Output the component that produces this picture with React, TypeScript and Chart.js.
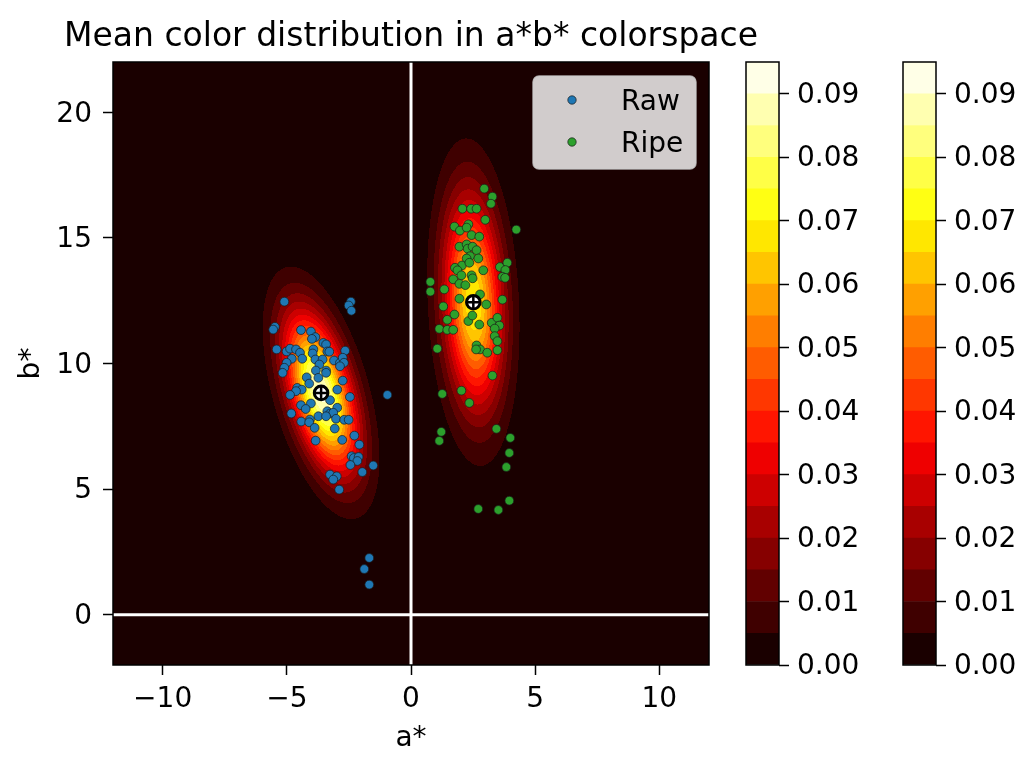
import React, { useEffect, useRef } from 'react';
import Chart from 'chart.js/auto';

// a*/b* of the individual samples
const rawA = [-5.10, -2.42, -2.51, -2.40, -5.48, -5.55, -4.43, -4.03, -3.85, -3.99,
  -3.53, -3.42, -3.37, -3.29, -2.65, -5.41, -5.01, -4.87, -4.63, -4.47,
  -4.38, -3.93, -3.96, -3.85, -3.56, -4.80, -5.01, -5.10, -5.17, -3.10,
  -2.86, -2.75, -2.70, -2.86, -3.69, -3.83, -3.42, -3.42, -3.73, -4.20,
  -4.10, -4.58, -4.40, -4.63, -4.87, -2.97, -2.75, -2.46, -3.26, -0.95,
  -4.03, -4.43, -4.24, -2.97, -3.37, -3.26, -3.13, -3.02, -3.73, -3.42,
  -4.82, -4.42, -4.07, -4.10, -3.88, -2.69, -2.51, -3.07, -2.28, -2.08,
  -3.84, -2.77, -2.39, -2.30, -2.11, -2.16, -2.44, -1.52, -1.96, -3.26,
  -2.99, -3.13, -2.89, -1.68, -1.88, -1.68];
const rawB = [12.46, 12.46, 12.31, 12.10, 11.46, 11.35, 11.33, 11.27, 11.05, 10.98,
  10.82, 10.76, 10.48, 10.47, 10.51, 10.56, 10.48, 10.59, 10.56, 10.43,
  10.19, 10.56, 10.40, 10.16, 10.16, 10.19, 10.03, 9.83, 9.63, 10.12,
  10.03, 10.23, 10.03, 9.89, 9.96, 9.72, 9.72, 9.63, 9.43, 9.45,
  9.20, 9.03, 8.96, 8.90, 8.75, 8.96, 9.32, 8.67, 8.54, 8.75,
  8.41, 8.34, 8.19, 8.24, 8.10, 8.01, 8.04, 7.80, 7.90, 7.90,
  8.01, 7.69, 7.77, 7.66, 7.44, 7.76, 7.76, 7.41, 7.13, 6.77,
  6.93, 6.96, 6.31, 6.24, 6.28, 6.12, 5.96, 5.94, 5.68, 5.58,
  5.51, 5.38, 4.98, 2.26, 1.82, 1.20];

const ripeA = [2.95, 3.28, 3.22, 2.07, 2.42, 2.64, 2.99, 4.24, 1.75, 1.97,
  2.31, 2.24, 2.44, 2.75, 1.95, 2.24, 2.28, 2.48, 2.64, 2.38,
  2.71, 2.24, 2.05, 2.35, 1.77, 1.87, 2.03, 2.44, 2.48, 1.70,
  1.95, 2.19, 2.91, 3.58, 3.88, 3.80, 3.68, 3.79, 0.78, 0.78,
  1.34, 1.95, 2.78, 3.03, 3.68, 1.30, 1.75, 1.46, 2.31, 2.47,
  2.75, 1.14, 1.46, 1.70, 3.25, 3.48, 3.56, 3.37, 3.37, 3.48,
  2.64, 2.78, 2.62, 3.07, 3.48, 1.06, 3.28, 2.03, 1.26, 2.35,
  3.44, 1.22, 1.14, 4.00, 3.96, 3.84, 3.96, 2.71, 3.52];
const ripeB = [16.96, 16.64, 16.36, 16.16, 16.16, 16.16, 15.72, 15.33, 15.45, 15.29,
  15.54, 15.41, 15.11, 15.05, 14.65, 14.74, 14.57, 14.65, 14.51, 14.27,
  14.18, 14.18, 13.90, 14.01, 13.81, 13.71, 13.51, 13.51, 13.39, 13.35,
  13.17, 13.12, 13.71, 13.84, 14.01, 13.72, 13.45, 13.41, 13.25, 12.86,
  12.95, 12.58, 12.75, 12.35, 12.54, 12.27, 11.95, 11.74, 11.69, 11.91,
  11.55, 11.38, 11.34, 11.34, 11.62, 11.82, 11.51, 11.39, 11.09, 10.89,
  10.72, 10.56, 10.56, 10.43, 10.53, 10.59, 9.52, 8.92, 8.79, 8.43,
  7.40, 7.28, 6.92, 7.04, 6.44, 5.88, 4.54, 4.21, 4.17];

// group means (raw, ripe) and covariances [var a, cov ab, var b]
const meanA = [-3.62, 2.51];
const meanB = [8.83, 12.44];
const rawCov = [0.95, -1.05, 4.35];
const ripeCov = [0.655, -0.345, 8.04];

const contourLevels = [0, 0.005, 0.01, 0.015, 0.02, 0.025, 0.03, 0.035, 0.04, 0.045,
  0.05, 0.055, 0.06, 0.065, 0.07, 0.075, 0.08, 0.085, 0.09, 0.095];
const cbarTicks = [0, 0.01, 0.02, 0.03, 0.04, 0.05, 0.06, 0.07, 0.08, 0.09];
const aTicks = [-10, -5, 0, 5, 10];
const bTicks = [0, 5, 10, 15, 20];
const aLimits = [-12, 12];
const bLimits = [-2, 22];

const FONT = 'DejaVu Sans';
Chart.defaults.font.family = FONT;
Chart.defaults.color = '#000';

// matplotlib 'hot' colormap (256 entry lut)
function hot(v: number): string {
  const x = Math.min(255, Math.floor(v * 256)) / 255;
  const r = x < 0.365079 ? 0.0416 + (1 - 0.0416) * x / 0.365079 : 1;
  const g = x < 0.365079 ? 0 : x < 0.746032 ? (x - 0.365079) / (0.746032 - 0.365079) : 1;
  const b = x < 0.746032 ? 0 : (x - 0.746032) / (1 - 0.746032);
  return `rgb(${Math.round(r * 255)},${Math.round(g * 255)},${Math.round(b * 255)})`;
}

const vmax = contourLevels[contourLevels.length - 1];
const bandColors = contourLevels.slice(0, -1).map((l, i) => hot((l + contourLevels[i + 1]) / 2 / vmax));
const bandRgb = bandColors.map(c => c.slice(4, -1).split(',').map(Number));

function gauss(a: number, b: number, ma: number, mb: number, cov: number[]) {
  const [saa, sab, sbb] = cov;
  const det = saa * sbb - sab * sab;
  const da = a - ma, db = b - mb;
  const q = (sbb * da * da - 2 * sab * da * db + saa * db * db) / det;
  return Math.exp(-q / 2) / (2 * Math.PI * Math.sqrt(det));
}

const density = (a: number, b: number) =>
  gauss(a, b, meanA[0], meanB[0], rawCov) + gauss(a, b, meanA[1], meanB[1], ripeCov);

const fmt = (v: number) => (v < 0 ? '\u2212' + Math.abs(v) : String(v));

const contourPlugin = {
  id: 'contour',
  beforeDatasetsDraw(chart: any) {
    const { ctx, chartArea: ca, scales } = chart;
    const w = Math.round(ca.right - ca.left);
    const h = Math.round(ca.bottom - ca.top);
    const off = document.createElement('canvas');
    off.width = w;
    off.height = h;
    const octx = off.getContext('2d')!;
    const img = octx.createImageData(w, h);
    const nb = bandRgb.length;
    for (let j = 0; j < h; j++) {
      const b = scales.y.getValueForPixel(ca.top + j + 0.5);
      for (let i = 0; i < w; i++) {
        const a = scales.x.getValueForPixel(ca.left + i + 0.5);
        const d = density(a, b);
        let k = 0;
        while (k < nb - 1 && d >= contourLevels[k + 1]) k++;
        const c = bandRgb[k];
        const p = (j * w + i) * 4;
        img.data[p] = c[0];
        img.data[p + 1] = c[1];
        img.data[p + 2] = c[2];
        img.data[p + 3] = 255;
      }
    }
    octx.putImageData(img, 0, 0);
    ctx.save();
    ctx.drawImage(off, ca.left, ca.top, ca.right - ca.left, ca.bottom - ca.top);
    ctx.restore();
  },
};

const framePlugin = {
  id: 'frame',
  afterDatasetsDraw(chart: any) {
    const { ctx, chartArea: ca } = chart;
    ctx.save();
    ctx.strokeStyle = '#000';
    ctx.lineWidth = 1.5;
    ctx.strokeRect(ca.left, ca.top, ca.right - ca.left, ca.bottom - ca.top);
    ctx.restore();
  },
};

const titleLegendPlugin = {
  id: 'titleLegend',
  afterDraw(chart: any) {
    const { ctx, chartArea: ca } = chart;
    ctx.save();
    ctx.fillStyle = '#000';
    ctx.font = `33px "${FONT}"`;
    ctx.textAlign = 'center';
    ctx.textBaseline = 'alphabetic';
    ctx.fillText('Mean color distribution in a*b* colorspace', (ca.left + ca.right) / 2, ca.top - 16);

    // legend box
    const right = ca.right - 13;
    const left = right - 163;
    const top = ca.top + 14;
    const h = 93;
    ctx.beginPath();
    ctx.roundRect(left, top, right - left, h, 6);
    ctx.fillStyle = 'rgba(255,255,255,0.8)';
    ctx.fill();
    ctx.strokeStyle = 'rgba(204,204,204,0.8)';
    ctx.lineWidth = 1.5;
    ctx.stroke();

    const items = chart.data.datasets.filter((d: any) => d.label === 'Raw' || d.label === 'Ripe');
    items.forEach((d: any, i: number) => {
      const y = top + 24 + i * 42;
      ctx.beginPath();
      ctx.arc(left + 39, y, 4.2, 0, Math.PI * 2);
      ctx.fillStyle = d.backgroundColor;
      ctx.fill();
      ctx.lineWidth = 0.7;
      ctx.strokeStyle = d.borderColor;
      ctx.stroke();
      ctx.fillStyle = '#000';
      ctx.font = `28px "${FONT}"`;
      ctx.textAlign = 'left';
      ctx.textBaseline = 'alphabetic';
      ctx.fillText(d.label, left + 88, y + 10);
    });
    ctx.restore();
  },
};

const MainPlot: React.FC = () => {
  const ref = useRef<HTMLCanvasElement>(null);
  const inst = useRef<Chart | null>(null);

  useEffect(() => {
    if (!ref.current) return;
    if (inst.current) inst.current.destroy();
    const means = meanA.map((a, i) => ({ x: a, y: meanB[i] }));
    const axisFont = { family: FONT, size: 28 };

    inst.current = new Chart(ref.current, {
      type: 'scatter',
      data: {
        datasets: [
          {
            label: 'meanCross', data: means, pointStyle: 'cross', pointRadius: 6,
            borderColor: '#000', borderWidth: 2.5, backgroundColor: '#000', order: 0,
          },
          {
            label: 'meanRing', data: means, pointStyle: 'circle', pointRadius: 6.8,
            borderColor: '#000', borderWidth: 3, backgroundColor: '#fff', order: 1,
          },
          {
            label: 'Raw', data: rawA.map((a, i) => ({ x: a, y: rawB[i] })),
            backgroundColor: '#1f77b4', borderColor: '#1a1a1a', borderWidth: 0.7, pointRadius: 4.4, order: 2,
          },
          {
            label: 'Ripe', data: ripeA.map((a, i) => ({ x: a, y: ripeB[i] })),
            backgroundColor: '#2ca02c', borderColor: '#1a1a1a', borderWidth: 0.7, pointRadius: 4.4, order: 3,
          },
          {
            label: 'zeroA', data: bLimits.map(b => ({ x: 0, y: b })), showLine: true,
            borderColor: '#fff', borderWidth: 3, pointRadius: 0, order: 4,
          },
          {
            label: 'zeroB', data: aLimits.map(a => ({ x: a, y: 0 })), showLine: true,
            borderColor: '#fff', borderWidth: 3, pointRadius: 0, order: 5,
          },
        ] as any,
      },
      options: {
        animation: false,
        responsive: true,
        maintainAspectRatio: false,
        events: [],
        layout: { padding: { top: 62, left: 0, right: 113, bottom: 0 } },
        plugins: { legend: { display: false }, tooltip: { enabled: false } },
        scales: {
          x: {
            type: 'linear', position: 'bottom', min: aLimits[0], max: aLimits[1],
            afterBuildTicks: (s: any) => { s.ticks = aTicks.map(v => ({ value: v })); },
            afterFit: (s: any) => { s.height = 108; },
            ticks: { font: axisFont, color: '#000', padding: 8, maxRotation: 0, callback: (v: any) => fmt(v) },
            grid: { drawOnChartArea: false, drawTicks: true, tickLength: 10, tickColor: '#000', tickWidth: 1.5 },
            border: { display: false },
            title: { display: true, text: 'a*', font: axisFont, color: '#000', padding: { top: 0, bottom: 17 } },
          },
          y: {
            type: 'linear', position: 'left', min: bLimits[0], max: bLimits[1],
            afterBuildTicks: (s: any) => { s.ticks = bTicks.map(v => ({ value: v })); },
            afterFit: (s: any) => { s.width = 113; },
            ticks: { font: axisFont, color: '#000', padding: 11, labelOffset: 2, callback: (v: any) => fmt(v) },
            grid: { drawOnChartArea: false, drawTicks: true, tickLength: 10, tickColor: '#000', tickWidth: 1.5 },
            border: { display: false },
            title: { display: true, text: 'b*', font: axisFont, color: '#000', padding: { top: 15, bottom: 0 } },
          },
        },
      } as any,
      plugins: [contourPlugin, framePlugin, titleLegendPlugin],
    });

    return () => {
      if (inst.current) inst.current.destroy();
      inst.current = null;
    };
  }, []);

  return (
    <div style={{ position: 'absolute', left: 0, top: 0, width: 822, height: 773 }}>
      <canvas ref={ref}></canvas>
    </div>
  );
};

const ColorBar: React.FC<{ left: number; width: number }> = ({ left, width }) => {
  const ref = useRef<HTMLCanvasElement>(null);
  const inst = useRef<Chart | null>(null);

  useEffect(() => {
    if (!ref.current) return;
    if (inst.current) inst.current.destroy();
    const axisFont = { family: FONT, size: 28 };

    inst.current = new Chart(ref.current, {
      type: 'bar',
      data: {
        labels: [''],
        datasets: bandColors.map((c, i) => ({
          data: [contourLevels[i + 1] - contourLevels[i]],
          backgroundColor: c,
          borderWidth: 0,
          barPercentage: 1,
          categoryPercentage: 1,
          stack: 'levels',
        })),
      },
      options: {
        animation: false,
        responsive: true,
        maintainAspectRatio: false,
        events: [],
        layout: { padding: { top: 62, left: 6, right: 0, bottom: 108 } },
        plugins: { legend: { display: false }, tooltip: { enabled: false } },
        scales: {
          x: { display: false, stacked: true },
          y: {
            stacked: true, position: 'right', min: 0, max: vmax,
            afterBuildTicks: (s: any) => { s.ticks = cbarTicks.map(v => ({ value: v })); },
            afterFit: (s: any) => { s.width = width - 6 - 33; },
            ticks: { font: axisFont, color: '#000', padding: 8, labelOffset: 2, callback: (v: any) => Number(v).toFixed(2) },
            grid: { drawOnChartArea: false, drawTicks: true, tickLength: 10, tickColor: '#000', tickWidth: 1.5 },
            border: { display: false },
          },
        },
      } as any,
      plugins: [framePlugin],
    });

    return () => {
      if (inst.current) inst.current.destroy();
      inst.current = null;
    };
  }, [width]);

  return (
    <div style={{ position: 'absolute', left, top: 0, width, height: 773 }}>
      <canvas ref={ref}></canvas>
    </div>
  );
};

const App: React.FC = () => (
  <div style={{ position: 'absolute', left: 0, top: 0, width: 1036, height: 773, background: '#fff', overflow: 'hidden' }}>
    <MainPlot />
    <ColorBar left={740} width={140} />
    <ColorBar left={897} width={139} />
  </div>
);

export default App;
